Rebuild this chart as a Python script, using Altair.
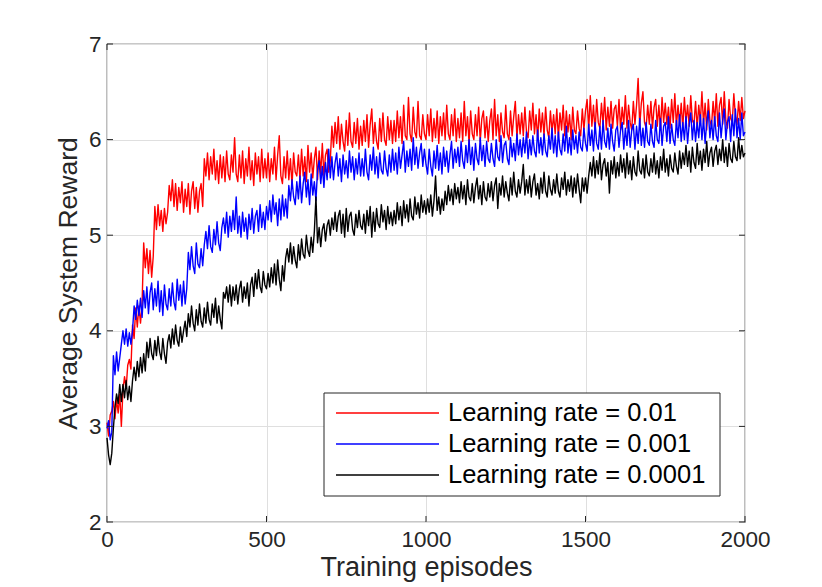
import altair as alt
import pandas as pd

EPISODE_STEP = 5

red_vals = [
    3.04, 2.90, 3.12, 3.16, 3.26, 3.08, 3.28, 3.14, 3.34, 3.00, 3.38, 3.52, 3.40, 3.64, 3.70, 3.60, 4.06, 3.92, 4.24, 4.04,
    4.26, 4.08, 4.28, 4.92, 4.66, 4.86, 4.60, 4.84, 4.56, 4.78, 5.30, 5.06, 5.32, 5.10, 5.26, 5.04, 5.28, 5.12, 5.24, 5.52,
    5.36, 5.58, 5.30, 5.54, 5.26, 5.50, 5.34, 5.56, 5.24, 5.48, 5.30, 5.54, 5.22, 5.46, 5.56, 5.28, 5.50, 5.24, 5.46, 5.54,
    5.30, 5.80, 5.62, 5.86, 5.58, 5.82, 5.64, 5.90, 5.58, 5.78, 5.54, 5.84, 5.60, 5.82, 5.56, 5.88, 5.64, 5.58, 5.84, 5.66,
    6.02, 5.64, 5.56, 5.84, 5.60, 5.88, 5.54, 5.80, 5.62, 5.92, 5.58, 5.78, 5.52, 5.86, 5.64, 5.82, 5.56, 5.90, 5.60, 5.80,
    5.60, 5.86, 5.56, 5.80, 5.64, 5.92, 5.58, 5.84, 6.04, 5.62, 5.54, 5.82, 5.60, 5.88, 5.58, 5.80, 5.52, 5.86, 5.66, 5.62,
    5.84, 5.58, 5.90, 5.62, 5.82, 5.56, 5.94, 5.66, 5.86, 5.60, 5.80, 5.92, 5.58, 5.88, 5.64, 5.96, 5.62, 5.84, 5.90, 5.66,
    5.78, 6.14, 5.92, 6.18, 5.96, 6.24, 5.90, 6.16, 5.98, 5.88, 6.20, 5.94, 6.28, 5.98, 5.92, 6.18, 5.96, 6.22, 5.90, 6.14,
    5.94, 6.20, 5.98, 6.26, 5.92, 6.16, 6.32, 5.96, 6.18, 5.98, 5.90, 6.22, 5.98, 6.28, 6.00, 5.94, 6.24, 6.00, 6.20, 5.96,
    6.20, 5.98, 6.30, 6.02, 6.24, 5.96, 6.36, 6.04, 6.00, 6.44, 6.06, 5.98, 6.34, 6.08, 6.02, 6.40, 6.04, 6.00, 6.26, 6.06,
    6.00, 6.26, 6.04, 6.32, 5.98, 6.22, 6.02, 6.30, 5.96, 6.24, 6.04, 6.28, 6.00, 6.36, 6.06, 6.00, 6.26, 6.04, 6.32, 5.98,
    6.22, 6.02, 6.28, 5.98, 6.40, 6.04, 6.24, 5.96, 6.30, 6.06, 6.00, 6.26, 6.04, 6.34, 5.98, 6.22, 6.30, 6.02, 6.24, 5.98,
    6.20, 6.32, 6.00, 6.42, 6.04, 6.26, 5.98, 6.28, 6.08, 6.02, 6.36, 6.06, 6.00, 6.30, 6.04, 6.24, 6.40, 6.02, 6.26, 6.06,
    6.28, 6.04, 6.34, 6.08, 6.02, 6.30, 6.10, 6.38, 6.06, 6.26, 6.00, 6.32, 6.08, 6.28, 6.04, 6.34, 6.10, 6.02, 6.30, 6.08,
    6.26, 6.06, 6.32, 6.02, 6.28, 6.10, 6.36, 6.04, 6.30, 6.08, 6.26, 6.00, 6.34, 6.10, 6.06, 6.30, 6.12, 6.04, 6.32, 6.10,
    6.30, 6.42, 6.10, 6.46, 6.14, 6.36, 6.08, 6.42, 6.18, 6.12, 6.38, 6.16, 6.44, 6.10, 6.34, 6.14, 6.40, 6.12, 6.32, 6.36,
    6.14, 6.42, 6.10, 6.34, 6.16, 6.46, 6.12, 6.36, 6.18, 6.10, 6.40, 6.16, 6.36, 6.64, 6.14, 6.38, 6.50, 6.18, 6.12, 6.36,
    6.16, 6.40, 6.12, 6.34, 6.42, 6.14, 6.36, 6.10, 6.44, 6.18, 6.38, 6.16, 6.34, 6.12, 6.42, 6.18, 6.48, 6.14, 6.36, 6.16,
    6.38, 6.12, 6.44, 6.18, 6.36, 6.14, 6.46, 6.20, 6.16, 6.40, 6.12, 6.36, 6.18, 6.50, 6.16, 6.38, 6.10, 6.42, 6.20, 6.14,
    6.40, 6.18, 6.48, 6.14, 6.36, 6.44, 6.16, 6.50, 6.20, 6.12, 6.42, 6.22, 6.18, 6.48, 6.24, 6.16, 6.40, 6.20, 6.44, 6.22,
    6.30,
]

blue_vals = [
    2.98, 3.06, 2.86, 2.94, 3.74, 3.54, 3.78, 3.58, 3.72, 3.86, 4.00, 3.86, 4.02, 3.84, 3.98, 3.86, 4.00, 4.26, 4.12, 4.32,
    4.16, 4.34, 4.14, 4.42, 4.24, 4.46, 4.18, 4.40, 4.50, 4.22, 4.44, 4.26, 4.52, 4.20, 4.42, 4.16, 4.48, 4.28, 4.22, 4.44,
    4.26, 4.50, 4.30, 4.22, 4.54, 4.32, 4.48, 4.26, 4.52, 4.28, 4.44, 4.82, 4.64, 4.88, 4.68, 4.60, 4.92, 4.70, 4.66, 4.86,
    4.68, 4.90, 5.04, 4.86, 5.10, 4.88, 4.82, 5.06, 4.90, 5.14, 4.92, 4.84, 5.08, 5.18, 5.02, 5.24, 4.98, 5.20, 5.04, 5.26,
    5.06, 5.40, 5.02, 5.20, 4.98, 5.24, 5.04, 5.18, 4.96, 5.22, 5.06, 5.28, 5.02, 5.20, 5.26, 5.04, 5.32, 5.08, 5.24, 5.06,
    5.30, 5.16, 5.36, 5.14, 5.42, 5.22, 5.34, 5.10, 5.38, 5.16, 5.42, 5.20, 5.38, 5.18, 5.52, 5.36, 5.58, 5.40, 5.32, 5.56,
    5.38, 5.62, 5.34, 5.54, 5.66, 5.40, 5.58, 5.32, 5.64, 5.42, 5.56, 5.36, 5.68, 5.78, 5.54, 5.72, 5.50, 5.76, 5.58, 5.90,
    5.60, 5.82, 5.58, 5.76, 5.86, 5.62, 5.80, 5.56, 5.84, 5.64, 5.78, 5.60, 5.88, 5.66, 5.82, 5.58, 5.80, 5.64, 5.86, 5.62,
    5.80, 5.62, 5.90, 5.66, 5.58, 5.84, 5.68, 5.92, 5.64, 5.82, 5.60, 5.86, 5.68, 5.64, 5.88, 5.70, 5.62, 5.84, 5.66, 5.90,
    5.68, 5.86, 5.64, 5.92, 5.70, 5.84, 5.98, 5.66, 5.88, 5.72, 5.90, 5.68, 6.02, 5.74, 5.92, 5.70, 5.86, 5.96, 5.72, 5.90,
    5.74, 5.64, 5.90, 5.72, 5.62, 5.88, 5.70, 5.94, 5.68, 5.86, 5.64, 5.92, 5.72, 5.88, 5.66, 5.84, 5.98, 5.70, 5.90, 5.76,
    5.92, 5.72, 5.98, 5.78, 5.70, 5.94, 5.76, 6.00, 5.74, 5.92, 5.68, 5.96, 5.80, 5.74, 6.02, 5.78, 5.94, 5.72, 5.98, 5.80,
    5.76, 5.96, 5.80, 5.72, 6.00, 5.82, 5.78, 6.04, 5.76, 5.94, 5.98, 5.80, 5.74, 6.02, 5.82, 5.96, 5.78, 6.06, 5.84, 6.00,
    5.82, 6.02, 5.86, 6.08, 5.80, 6.00, 5.84, 6.04, 5.88, 5.82, 6.10, 5.86, 6.02, 5.84, 6.06, 5.88, 5.82, 6.04, 5.90, 6.12,
    5.86, 6.04, 5.82, 6.08, 5.90, 5.84, 6.06, 5.88, 6.14, 5.86, 6.02, 5.84, 6.10, 5.90, 6.04, 5.86, 6.08, 5.92, 5.88, 6.12,
    5.96, 5.88, 6.16, 5.94, 6.10, 5.88, 6.18, 5.96, 5.90, 6.14, 5.90, 6.20, 5.98, 5.92, 6.12, 5.90, 6.16, 5.98, 5.88, 6.10,
    6.14, 5.92, 6.10, 6.18, 5.90, 6.12, 5.94, 6.20, 5.92, 6.10, 6.16, 5.90, 6.14, 5.96, 6.22, 5.94, 6.12, 5.92, 6.18, 5.98,
    5.94, 6.16, 5.98, 5.92, 6.20, 6.00, 5.96, 6.22, 5.94, 6.14, 6.18, 5.98, 6.24, 5.96, 6.16, 6.00, 5.94, 6.20, 6.02, 6.26,
    5.98, 6.18, 6.00, 6.24, 5.96, 6.16, 6.28, 6.00, 6.20, 5.98, 6.18, 6.02, 6.26, 6.00, 6.22, 5.96, 6.18, 6.30, 6.02, 6.20,
    6.00, 6.24, 6.04, 5.98, 6.28, 6.02, 6.20, 6.32, 6.00, 6.18, 6.24, 5.98, 6.26, 6.04, 6.32, 6.02, 6.22, 6.00, 6.28, 6.04,
    6.08,
]

black_vals = [
    2.88, 2.70, 2.60, 2.72, 2.98, 3.20, 3.34, 3.24, 3.44, 3.26, 3.44, 3.30, 3.48, 3.28, 3.42, 3.26, 3.48, 3.62, 3.48, 3.68,
    3.52, 3.72, 3.56, 3.76, 3.58, 3.88, 3.72, 3.92, 3.76, 3.70, 3.90, 3.74, 3.94, 3.78, 3.70, 3.92, 3.76, 3.66, 3.88, 3.96,
    3.82, 4.02, 3.86, 4.06, 3.90, 3.84, 4.04, 3.88, 4.00, 4.10, 3.94, 4.18, 4.04, 4.26, 4.08, 4.00, 4.22, 4.06, 4.28, 4.10,
    4.04, 4.24, 4.08, 4.30, 4.12, 4.06, 4.28, 4.14, 4.34, 4.08, 4.26, 4.12, 4.02, 4.40, 4.34, 4.46, 4.30, 4.48, 4.26, 4.46,
    4.32, 4.48, 4.28, 4.44, 4.52, 4.30, 4.46, 4.34, 4.50, 4.26, 4.48, 4.56, 4.36, 4.60, 4.44, 4.64, 4.46, 4.40, 4.62, 4.48,
    4.44, 4.60, 4.46, 4.66, 4.50, 4.70, 4.48, 4.74, 4.54, 4.42, 4.68, 4.52, 4.76, 4.86, 4.72, 4.92, 4.70, 4.88, 4.74, 4.66,
    4.90, 4.74, 4.96, 4.80, 4.76, 5.00, 4.84, 4.78, 4.98, 4.82, 5.04, 5.40, 4.92, 5.08, 4.88, 5.06, 5.12, 4.94, 5.10, 5.16,
    5.00, 5.18, 5.06, 5.24, 5.04, 5.20, 5.26, 5.02, 5.22, 4.98, 5.28, 5.04, 5.20, 5.24, 5.06, 5.00, 5.22, 5.08, 5.26, 5.10,
    5.06, 5.22, 5.02, 5.26, 5.10, 5.30, 4.98, 5.24, 5.04, 5.28, 5.12, 5.08, 5.32, 5.14, 5.26, 5.06, 5.30, 5.12, 5.24, 5.10,
    5.26, 5.12, 5.34, 5.16, 5.30, 5.10, 5.36, 5.18, 5.32, 5.14, 5.38, 5.20, 5.16, 5.40, 5.22, 5.34, 5.18, 5.42, 5.24, 5.36,
    5.22, 5.38, 5.24, 5.42, 5.20, 5.36, 5.62, 5.26, 5.40, 5.22, 5.38, 5.26, 5.46, 5.32, 5.52, 5.36, 5.48, 5.32, 5.54, 5.38,
    5.50, 5.34, 5.56, 5.38, 5.52, 5.32, 5.58, 5.40, 5.36, 5.54, 5.34, 5.50, 5.60, 5.38, 5.52, 5.32, 5.56, 5.40, 5.36, 5.54,
    5.40, 5.56, 5.36, 5.52, 5.60, 5.28, 5.54, 5.42, 5.62, 5.40, 5.56, 5.44, 5.36, 5.60, 5.42, 5.66, 5.46, 5.40, 5.58, 5.44,
    5.56, 5.74, 5.42, 5.58, 5.44, 5.62, 5.40, 5.56, 5.64, 5.42, 5.54, 5.38, 5.60, 5.44, 5.66, 5.46, 5.40, 5.62, 5.48, 5.42,
    5.58, 5.44, 5.64, 5.46, 5.40, 5.60, 5.48, 5.66, 5.42, 5.58, 5.46, 5.62, 5.40, 5.60, 5.44, 5.64, 5.48, 5.34, 5.60, 5.46,
    5.60, 5.44, 5.62, 5.76, 5.62, 5.82, 5.60, 5.78, 5.64, 5.86, 5.58, 5.74, 5.80, 5.62, 5.76, 5.44, 5.78, 5.64, 5.82, 5.60,
    5.76, 5.62, 5.84, 5.66, 5.80, 5.60, 5.86, 5.64, 5.78, 5.58, 5.82, 5.66, 5.62, 5.88, 5.68, 5.64, 5.80, 5.60, 5.84, 5.66,
    5.62, 5.80, 5.66, 5.86, 5.64, 5.78, 5.60, 5.82, 5.68, 5.90, 5.66, 5.80, 5.62, 5.84, 5.70, 5.66, 5.86, 5.72, 5.64, 5.88,
    5.70, 5.86, 5.74, 5.94, 5.72, 5.88, 5.66, 5.92, 5.76, 5.70, 5.96, 5.74, 5.88, 5.68, 5.90, 5.76, 5.98, 5.72, 5.86, 5.92,
    5.72, 5.88, 5.94, 5.74, 5.90, 5.78, 6.00, 5.76, 5.92, 5.72, 5.96, 5.80, 5.76, 5.98, 5.82, 5.78, 6.02, 5.80, 5.94, 5.82,
    5.86,
]

series_labels = ["Learning rate = 0.01", "Learning rate = 0.001", "Learning rate = 0.0001"]
series_colors = ["#ff0000", "#0000ff", "#000000"]
x_ticks = [0, 500, 1000, 1500, 2000]
y_ticks = [2, 3, 4, 5, 6, 7]

# ---------------- styling ----------------
W, H = 638, 478
FONT = "Liberation Sans"
AX = "#262626"
TICK_LEN = 6

xscale = alt.Scale(domain=[0, 2000], nice=False)
yscale = alt.Scale(domain=[2, 7], nice=False)

xaxis = alt.Axis(
    title="Training episodes", values=x_ticks, format="d", grid=True, gridColor="#dfdfdf", gridWidth=1,
    ticks=False, tickSize=0, domain=False, labelFlush=False, labelOverlap=False,
    labelPadding=6, labelFontSize=22.5, labelColor=AX, labelFont=FONT,
    titleFontSize=27, titleFont=FONT, titleColor=AX, titleFontWeight="normal",
    titleX=W / 2, titleY=53, titleBaseline="alphabetic", titleAlign="center",
)
yaxis = alt.Axis(
    title="Average System Reward", values=y_ticks, format="d", grid=True, gridColor="#dfdfdf", gridWidth=1,
    ticks=False, tickSize=0, domain=False, labelFlush=False, labelOverlap=False,
    labelPadding=6, labelFontSize=22.5, labelColor=AX, labelFont=FONT,
    titleFontSize=26.5, titleFont=FONT, titleColor=AX, titleFontWeight="normal",
    titleAngle=270, titleX=-30.5, titleY=H / 2, titleBaseline="alphabetic", titleAlign="center",
)

layers = []

# data lines (red first, black on top)
for vals, col in zip([red_vals, blue_vals, black_vals], series_colors):
    df = pd.DataFrame({"episode": [EPISODE_STEP * i for i in range(len(vals))], "reward": vals})
    layers.append(
        alt.Chart(df).mark_line(color=col, strokeWidth=1.4, strokeJoin="round").encode(
            x=alt.X("episode:Q", scale=xscale, axis=xaxis),
            y=alt.Y("reward:Q", scale=yscale, axis=yaxis),
        )
    )

# inward tick marks on all four sides (MATLAB box style)
xt = pd.DataFrame({"episode": x_ticks})
yt = pd.DataFrame({"reward": y_ticks})
for y0, y1 in [(H, H - TICK_LEN), (0, TICK_LEN)]:
    layers.append(
        alt.Chart(xt).mark_rule(color=AX, strokeWidth=1).encode(
            x=alt.X("episode:Q", scale=xscale, axis=xaxis),
            y=alt.value(y0), y2=alt.value(y1),
        )
    )
for x0, x1 in [(0, TICK_LEN), (W, W - TICK_LEN)]:
    layers.append(
        alt.Chart(yt).mark_rule(color=AX, strokeWidth=1).encode(
            y=alt.Y("reward:Q", scale=yscale, axis=yaxis),
            x=alt.value(x0), x2=alt.value(x1),
        )
    )

# legend box (MATLAB style, inside the axes)
LX0, LX1, LY0, LY1 = 217, 613, 349, 452
layers.append(
    alt.Chart(pd.DataFrame({"k": [0]})).mark_rect(fill="white", stroke=AX, strokeWidth=1).encode(
        x=alt.value(LX0), x2=alt.value(LX1), y=alt.value(LY0), y2=alt.value(LY1),
    )
)
for i, (lab, col) in enumerate(zip(series_labels, series_colors)):
    ry = 369 + 31 * i
    ldf = pd.DataFrame({"label": [lab]})
    layers.append(
        alt.Chart(ldf).mark_rule(color=col, strokeWidth=1.3).encode(
            x=alt.value(229), x2=alt.value(332), y=alt.value(ry),
        )
    )
    layers.append(
        alt.Chart(ldf).mark_text(align="left", baseline="middle", font=FONT, fontSize=25.5, color="#000000").encode(
            x=alt.value(341), y=alt.value(ry), text="label:N",
        )
    )

chart = (
    alt.layer(*layers)
    .properties(
        width=W, height=H,
        padding={"left": 99, "top": 36, "right": 69, "bottom": 64},
        autosize=alt.AutoSizeParams(type="none"),
        background="white",
    )
    .configure_view(stroke=AX, strokeWidth=1.2)
)

chart.save("out.html", embed_options={"renderer": "svg", "actions": False})
